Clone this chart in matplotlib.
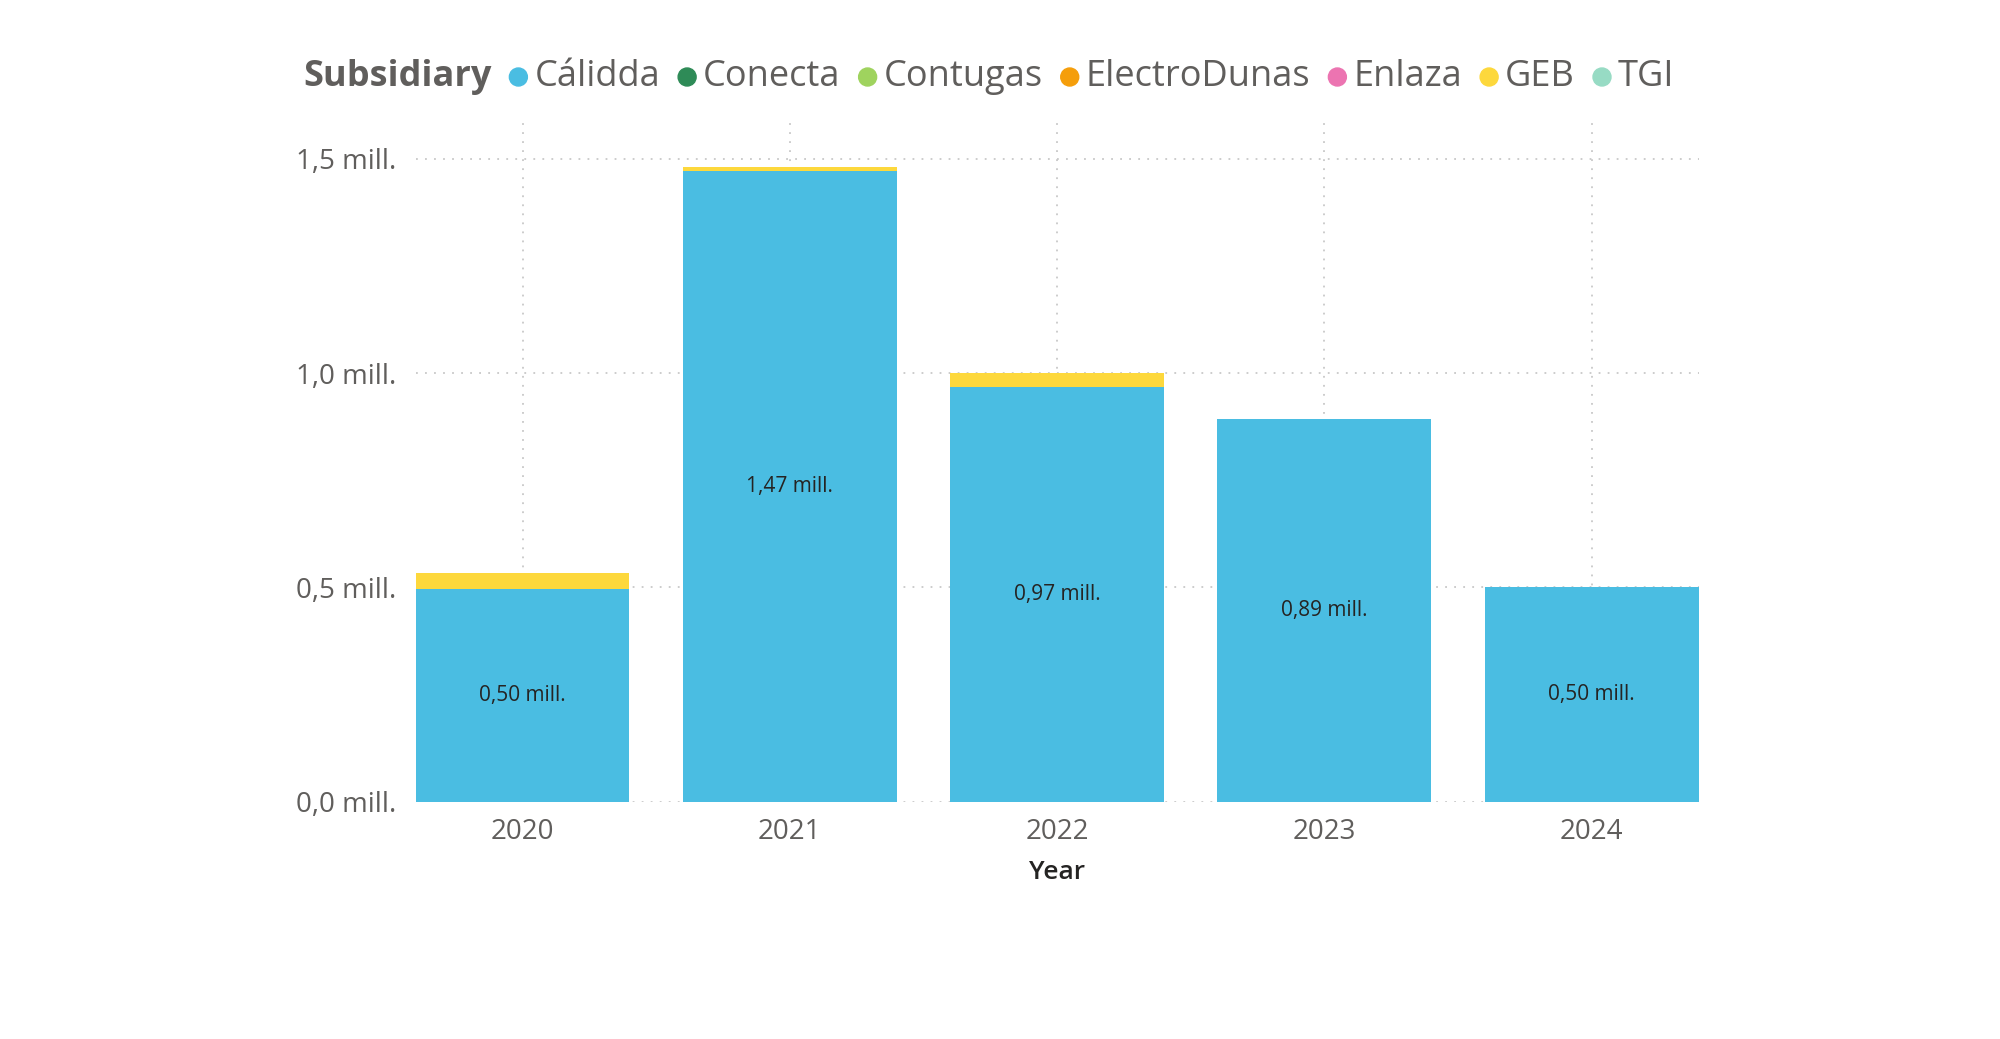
import matplotlib
matplotlib.use("Agg")
import matplotlib.pyplot as plt
import numpy as np

plt.rcParams['font.family'] = ['Open Sans', 'DejaVu Sans']

# data (millions)
years = ['2020', '2021', '2022', '2023', '2024']
subsidiaries = ['Cálidda', 'Conecta', 'Contugas', 'ElectroDunas', 'Enlaza', 'GEB', 'TGI']
colors = ['#4ABDE2', '#2E8B57', '#9FD35E', '#F59E0B', '#EC74B1', '#FDD83C', '#97DBC4']
calidda = [0.497, 1.471, 0.967, 0.893, 0.501]
conecta = [0, 0, 0, 0, 0]
contugas = [0, 0, 0, 0, 0]
electrodunas = [0, 0, 0, 0, 0]
enlaza = [0, 0, 0, 0, 0]
geb = [0.036, 0.009, 0.033, 0.0, 0.0]
tgi = [0, 0, 0, 0, 0]
series = [calidda, conecta, contugas, electrodunas, enlaza, geb, tgi]
yticks = [0.0, 0.5, 1.0, 1.5]

gray = '#605E5C'
dark = '#252423'

fig = plt.figure(figsize=(20, 10.39), dpi=100)
ax = fig.add_axes([0.2078, 0.2285, 0.6415, 0.66])

x = np.arange(len(years))
bottom = np.zeros(len(years))
for name, vals, c in zip(subsidiaries, series, colors):
    vals = np.array(vals, dtype=float)
    ax.bar(x, vals, 0.8, bottom=bottom, color=c, zorder=2, linewidth=0)
    bottom += vals

# labels inside the Cálidda segment
for i, v in enumerate(calidda):
    ax.text(i, v / 2, f"{v:.2f}".replace('.', ',') + " mill.", ha='center', va='center',
            fontsize=15, color=dark, zorder=3)

ax.set_xlim(-0.4, 4.4)
ax.set_ylim(0, 1.6)
ax.set_xticks(x)
ax.set_xticklabels(years)
ax.set_yticks(yticks)
ax.set_yticklabels([f"{t:.1f}".replace('.', ',') + " mill." for t in yticks])
ax.tick_params(axis='both', length=0, labelsize=20, labelcolor=gray)
ax.tick_params(axis='x', pad=12)
ax.tick_params(axis='y', pad=14)
for s in ax.spines.values():
    s.set_visible(False)
ax.grid(True, axis='both', linestyle=(0, (1, 4)), color='#C8C8C8', linewidth=1.3, zorder=0)
ax.set_axisbelow(True)
ax.set_xlabel('Year', fontsize=19, color=dark, fontweight='semibold', labelpad=10)

# legend drawn in one row at the top
fig.canvas.draw()
r = fig.canvas.get_renderer()
W, H = fig.get_size_inches() * fig.dpi
ly = 1 - 77 / H
t = fig.text(303 / W, ly, 'Subsidiary', fontsize=26, fontweight='bold', color=gray,
             va='center', ha='left')
xp = t.get_window_extent(r).x1
for name, c in zip(subsidiaries, colors):
    cx = xp + 27
    fig.patches.append(matplotlib.patches.Ellipse((cx / W, ly), 18 / W, 18 / H,
                                                  transform=fig.transFigure, color=c))
    tt = fig.text((cx + 16) / W, ly, name, fontsize=26, color=gray, va='center', ha='left')
    xp = tt.get_window_extent(r).x1

fig.savefig('out.png', dpi=100, facecolor='white')
